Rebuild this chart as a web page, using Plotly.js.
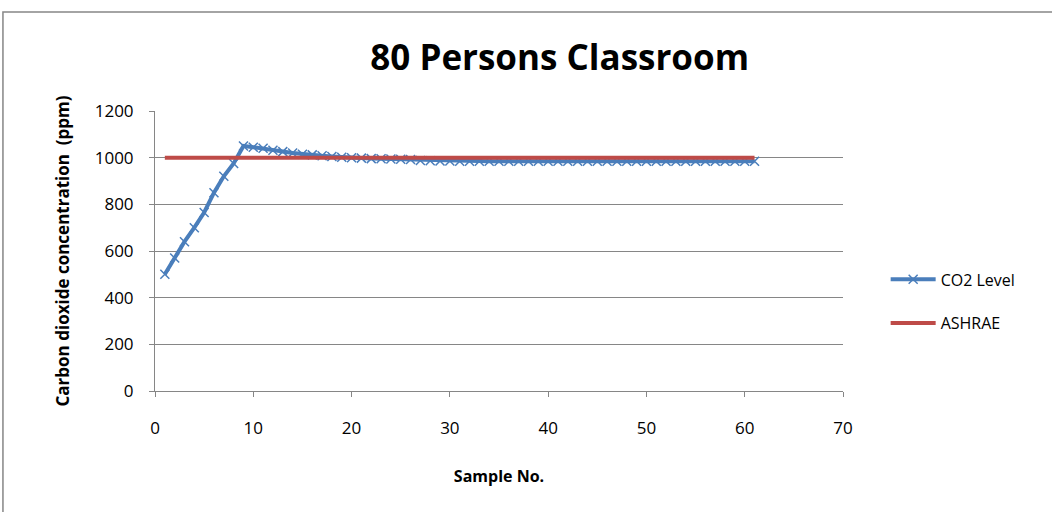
<!DOCTYPE html>
<html><head><meta charset="utf-8">
<script src="https://cdn.plot.ly/plotly-3.0.1.min.js"></script>
<style>html,body{margin:0;padding:0;background:#fff}#c{width:1052px;height:512px}</style>
</head><body><div id="c"></div>
<script>
const sampleNo = [];
for (let i = 1; i <= 61; i++) sampleNo.push(i);
const co2Level = [500,570,640,700,765,850,920,975,1050,1045,
  1040,1032,1026,1020,1015,1012,1008,1005,1002,1000,
  998,996,995,994,993,992,988,987,986,986,
  985,985,985,985,985,985,985,985,985,985,
  985,985,985,985,985,985,985,985,985,985,
  985,985,985,985,985,985,985,985,985,985,985];
const ashraeX = [1, 61];
const ashraeY = [1000, 1000];
const yTicks = [0,200,400,600,800,1000,1200];
const xTicks = [0,10,20,30,40,50,60,70];

const font = "Open Sans, Liberation Sans, sans-serif";
const traces = [
  {x: sampleNo, y: co2Level, name: 'CO2 Level', legendgroup: 'a', type: 'scatter', mode: 'lines+markers',
   line: {color: '#4a7ebb', width: 4}, marker: {symbol: 'x-thin', size: 9, color: '#4a7ebb', line: {color: '#4a7ebb', width: 1.5}}},
  {x: ashraeX, y: ashraeY, name: 'ASHRAE', legendgroup: 'b', type: 'scatter', mode: 'lines',
   line: {color: '#be4b48', width: 4}}
];
const layout = {
  width: 1052, height: 512,
  margin: {l: 155, r: 209, t: 111, b: 121},
  paper_bgcolor: '#fff', plot_bgcolor: '#fff',
  title: {text: '<b>80 Persons Classroom</b>', font: {family: font, size: 35, color: '#000'}, x: 0.532, xanchor: 'center', y: 0.888, yanchor: 'middle'},
  xaxis: {range: [0, 70], tickvals: xTicks, ticktext: xTicks.map(String), showgrid: false, zeroline: false,
    showline: true, linecolor: '#868686', linewidth: 1, ticks: 'outside', ticklen: 5, tickcolor: '#868686',
    ticklabelstandoff: 17,
    tickfont: {family: font, size: 17, color: '#000'},
    title: {text: '<b>Sample No.</b>', font: {family: font, size: 16, color: '#000'}, standoff: 32}},
  yaxis: {range: [0, 1200], tickvals: yTicks, ticktext: yTicks.map(String), showgrid: true, gridcolor: '#868686', gridwidth: 1,
    zeroline: false, showline: true, linecolor: '#868686', linewidth: 1, ticks: 'outside', ticklen: 5, tickcolor: '#868686',
    ticklabelstandoff: 12,
    tickfont: {family: font, size: 17, color: '#000'},
    title: {text: '<b>Carbon dioxide concentration  (ppm)</b>', font: {family: font, size: 17, color: '#000'}, standoff: 20}},
  legend: {x: 1.062, y: 0.32, xanchor: 'left', yanchor: 'middle', font: {family: font, size: 16, color: '#000'},
    traceorder: 'grouped', tracegroupgap: 20, itemwidth: 45, bgcolor: 'rgba(0,0,0,0)'},
  shapes: [{type: 'rect', xref: 'paper', yref: 'paper', x0: -0.221, x1: 1.4, y0: -0.6, y1: 1.354,
    line: {color: '#868686', width: 1.5}, fillcolor: 'rgba(0,0,0,0)', layer: 'below'}],
  showlegend: true
};
Plotly.newPlot('c', traces, layout, {displayModeBar: false, staticPlot: true});
</script></body></html>
